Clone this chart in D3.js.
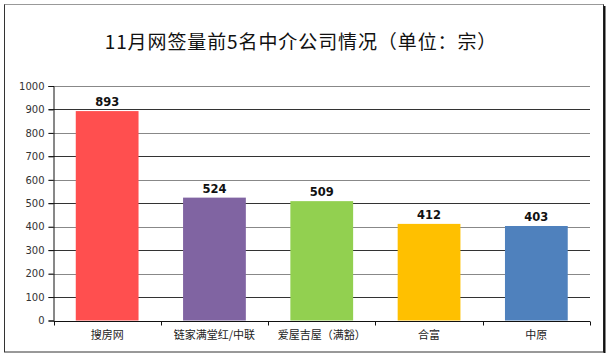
<!DOCTYPE html>
<html><head><meta charset="utf-8">
<script src="https://cdn.jsdelivr.net/npm/d3@7"></script>
<style>body{margin:0;background:#fff}svg{display:block}</style>
</head><body>
<script>
const title = "11月网签量前5名中介公司情况（单位：宗）";
const categories = ["搜房网", "链家满堂红/中联", "爱屋吉屋（满豁）", "合富", "中原"];
const values = [893, 524, 509, 412, 403];
const colors = ["#FF4F4F", "#8064A2", "#92D050", "#FFC000", "#4F81BD"];
const yTicks = [0, 100, 200, 300, 400, 500, 600, 700, 800, 900, 1000];

const W = 607, H = 355;
const m = {left: 53.5, right: 17, top: 86, bottom: 34.5};
const svg = d3.select("body").append("svg").attr("width", W).attr("height", H);

// frame
svg.append("rect").attr("x", 4.5).attr("y", 4.5).attr("width", 599).attr("height", 347.5)
  .attr("fill", "#fff").attr("stroke", "#333").attr("stroke-width", 1);
svg.append("line").attr("x1", 4.5).attr("x2", 603.5).attr("y1", 4.5).attr("y2", 4.5).attr("stroke", "#999");
svg.append("line").attr("x1", 604.5).attr("x2", 604.5).attr("y1", 6).attr("y2", 353).attr("stroke", "#111").attr("stroke-width", 2);

svg.append("text").attr("x", 301).attr("y", 48.5).attr("text-anchor", "middle")
  .attr("font-family", "'Noto Sans CJK SC', sans-serif").attr("font-size", 19).attr("fill", "#111")
  .attr("letter-spacing", 0.9)
  .text(title);

const x = d3.scaleBand().domain(categories).range([m.left, W - m.right]).paddingInner(0.415).paddingOuter(0.2075);
const y = d3.scaleLinear().domain([0, 1000]).range([H - m.bottom, m.top]);

// gridlines
svg.append("g").selectAll("line").data(yTicks.filter(d => d > 0)).join("line")
  .attr("x1", m.left - 5).attr("x2", W - m.right)
  .attr("y1", d => Math.round(y(d)) + 0.5).attr("y2", d => Math.round(y(d)) + 0.5)
  .attr("stroke", d => d % 200 === 0 ? "#888" : "#333").attr("stroke-width", 1);

// bars
svg.append("g").selectAll("rect").data(values).join("rect")
  .attr("x", (d, i) => x(categories[i])).attr("width", x.bandwidth())
  .attr("y", d => y(d)).attr("height", d => y(0) - y(d))
  .attr("fill", (d, i) => colors[i]);

// value labels
svg.append("g").selectAll("text").data(values).join("text")
  .attr("x", (d, i) => x(categories[i]) + x.bandwidth() / 2).attr("y", d => y(d) - 5)
  .attr("text-anchor", "middle").attr("font-family", "'DejaVu Sans', sans-serif")
  .attr("font-weight", "600").attr("font-size", 11.5).attr("fill", "#111").text(d => d);

// y axis
const yAxis = svg.append("g").attr("transform", `translate(${m.left},0)`)
  .call(d3.axisLeft(y).tickValues(yTicks).tickFormat(d3.format("d")).tickSize(5).tickPadding(4));
yAxis.selectAll("text").attr("font-family", "'DejaVu Sans', sans-serif").attr("font-size", 10).attr("fill", "#333");
yAxis.selectAll("line,path").attr("stroke", "#111");

// x axis
const xAxisY = Math.round(y(0)) + 0.5;
svg.append("line").attr("x1", m.left).attr("x2", W - m.right).attr("y1", xAxisY).attr("y2", xAxisY).attr("stroke", "#111");
const bounds = d3.range(categories.length + 1).map(i => m.left + i * (W - m.right - m.left) / categories.length);
svg.append("g").selectAll("line").data(bounds).join("line")
  .attr("x1", d => Math.round(d) + 0.5).attr("x2", d => Math.round(d) + 0.5)
  .attr("y1", xAxisY).attr("y2", xAxisY + 4).attr("stroke", "#111");
svg.append("g").selectAll("text").data(categories).join("text")
  .attr("x", d => x(d) + x.bandwidth() / 2).attr("y", xAxisY + 17)
  .attr("text-anchor", "middle").attr("font-family", "'Noto Sans CJK SC', sans-serif")
  .attr("font-size", 11).attr("fill", "#222").text(d => d);
</script>
</body></html>
